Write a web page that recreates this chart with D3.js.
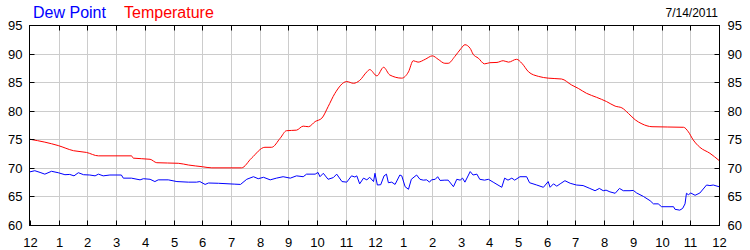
<!DOCTYPE html>
<meta charset="utf-8">
<head>
  <meta charset="utf-8">
  <title>Dew Point and Temperature</title>
  <style>
    body { margin: 0; background: #fff; }
    svg { display: block; font-family: Arial, "Liberation Sans", sans-serif; }
  </style>
</head>
<body>
<script src="https://cdn.jsdelivr.net/npm/d3@7/dist/d3.min.js"></script>
<script>

// minutes since midnight / degrees F
var tempMinutes = [0, 31, 59, 91, 118, 143, 212, 216, 251, 265, 310, 331, 360, 380, 442, 463, 491, 505, 523, 536,
  557, 571, 582, 596, 610, 623, 637, 662, 676, 689, 704, 710, 725, 739, 752, 777, 791, 801, 811, 826,
  841, 853, 867, 874, 888, 901, 909, 920, 926, 937, 950, 961, 976, 989, 1000, 1017, 1028, 1042, 1063, 1083,
  1111, 1132, 1146, 1163, 1184, 1205, 1223, 1237, 1251, 1265, 1279, 1300, 1366, 1376, 1386, 1400, 1421, 1440];
var tempValues = [75.0, 74.5, 73.9, 73.0, 72.7, 72.1, 72.1, 71.7, 71.5, 70.9, 70.8, 70.5, 70.2, 70.0, 70.0, 71.7, 73.6, 73.6, 75.2, 76.5,
  76.6, 77.3, 77.2, 78.1, 78.7, 80.7, 83.0, 85.1, 84.8, 85.3, 86.8, 87.2, 86.1, 87.6, 86.25, 85.7, 86.8, 88.75, 88.5, 89.0,
  89.6, 89.0, 88.3, 88.3, 89.5, 90.9, 91.55, 90.9, 89.9, 89.2, 88.2, 88.4, 88.45, 88.75, 88.5, 89.0, 88.3, 86.8, 86.0, 85.7,
  85.55, 84.5, 83.9, 83.05, 82.35, 81.6, 80.8, 80.5, 79.5, 78.4, 77.7, 77.2, 77.1, 76.3, 74.9, 73.6, 72.55, 71.3];

var dewMinutes = [0, 10, 21, 31, 45, 59, 73, 83, 92, 101, 112, 125, 136, 143, 153, 167, 191, 195, 212, 230,
  237, 251, 261, 268, 289, 307, 331, 348, 355, 366, 373, 394, 428, 440, 453, 467, 477, 488, 502, 515,
  529, 544, 557, 571, 578, 596, 602, 606, 613, 623, 634, 641, 652, 662, 672, 679, 683, 689, 697, 704,
  710, 718, 721, 726, 733, 740, 745, 749, 756, 763, 773, 777, 784, 791, 797, 808, 815, 822, 829, 835,
  839, 847, 852, 857, 867, 874, 885, 892, 899, 904, 909, 920, 926, 934, 940, 950, 958, 968, 986, 992,
  999, 1007, 1013, 1024, 1038, 1044, 1059, 1073, 1083, 1087, 1094, 1101, 1108, 1118, 1129, 1142, 1156, 1170, 1181, 1190,
  1198, 1204, 1212, 1223, 1232, 1240, 1254, 1261, 1268, 1282, 1296, 1303, 1313, 1320, 1345, 1348, 1358, 1364, 1369, 1372,
  1376, 1381, 1390, 1400, 1414, 1421, 1428, 1440];
var dewValues = [69.3, 69.5, 69.2, 68.9, 69.4, 69.15, 68.8, 68.85, 68.6, 69.15, 68.8, 68.75, 68.6, 68.9, 68.6, 68.75, 68.75, 68.2, 68.2, 67.9,
  68.1, 68.0, 67.6, 67.9, 67.9, 67.6, 67.5, 67.5, 67.6, 67.1, 67.35, 67.3, 67.15, 67.1, 68.0, 68.45, 68.1, 68.35, 67.9, 68.2,
  68.45, 68.2, 68.6, 68.45, 68.9, 68.9, 69.2, 68.45, 69.05, 68.0, 68.3, 68.9, 67.6, 67.5, 68.6, 68.4, 68.6, 67.2, 68.2, 67.9,
  68.35, 67.6, 69.05, 67.0, 67.05, 68.6, 68.9, 67.4, 67.5, 67.1, 68.75, 68.6, 66.7, 66.25, 68.0, 68.75, 68.0, 67.85, 67.9, 67.5,
  67.9, 68.0, 68.45, 67.8, 67.85, 67.85, 66.7, 68.0, 67.85, 68.2, 67.5, 69.35, 68.75, 68.9, 68.0, 67.85, 68.0, 67.5, 66.6, 68.2,
  67.85, 68.2, 67.85, 68.45, 68.45, 67.4, 67.0, 66.6, 67.6, 66.6, 67.2, 66.8, 67.2, 67.75, 67.3, 67.0, 66.9, 66.4, 66.0, 66.4,
  66.0, 66.1, 65.8, 65.55, 66.4, 66.0, 66.0, 66.05, 65.6, 65.0, 64.25, 63.7, 63.7, 63.2, 63.2, 62.75, 62.6, 62.9, 63.7, 65.55,
  65.3, 65.6, 65.2, 65.6, 67.0, 66.9, 67.0, 66.7];

var yTicks = [60, 65, 70, 75, 80, 85, 90, 95];
var hourTicks = d3.range(0, 1441, 60);
var hourLabels = ["12", "1", "2", "3", "4", "5", "6", "7", "8", "9", "10", "11",
  "12", "1", "2", "3", "4", "5", "6", "7", "8", "9", "10", "11", "12"];
var dateLabel = "7/14/2011";

var width = 750, height = 250;
var margin = {top: 25, right: 31, bottom: 25, left: 30};

var svg = d3.select("body").append("svg")
    .attr("width", width)
    .attr("height", height);

var x = d3.scaleLinear()
    .domain([0, 1440])
    .range([margin.left, width - margin.right]);

var y = d3.scaleLinear()
    .domain([60, 95])
    .range([height - margin.bottom, margin.top]);

function px(v) { return Math.round(v) + 0.5; }

// grid
var grid = svg.append("g").attr("stroke", "#cccccc").attr("stroke-width", 1);
grid.selectAll(".vg").data(hourTicks.slice(1, -1)).enter().append("line")
    .attr("x1", function(d) { return px(x(d)); })
    .attr("x2", function(d) { return px(x(d)); })
    .attr("y1", y(95)).attr("y2", y(60));
grid.selectAll(".hg").data(yTicks.slice(1, -1)).enter().append("line")
    .attr("y1", function(d) { return px(y(d)); })
    .attr("y2", function(d) { return px(y(d)); })
    .attr("x1", x(0)).attr("x2", x(1440));

// lines
var line = d3.line()
    .x(function(d) { return x(d[0]); })
    .y(function(d) { return y(d[1]); });

svg.append("path")
    .datum(dewMinutes.map(function(m, i) { return [m, dewValues[i]]; }))
    .attr("fill", "none")
    .attr("stroke", "#0000ff")
    .attr("stroke-width", 1)
    .attr("d", line);

svg.append("path")
    .datum(tempMinutes.map(function(m, i) { return [m, tempValues[i]]; }))
    .attr("fill", "none")
    .attr("stroke", "#ff0000")
    .attr("stroke-width", 1)
    .attr("d", line.curve(d3.curveMonotoneX));

// frame
svg.append("rect")
    .attr("x", px(x(0)) - 1).attr("y", px(y(95)))
    .attr("width", px(x(1440)) - px(x(0)) + 1)
    .attr("height", px(y(60)) - px(y(95)))
    .attr("fill", "none").attr("stroke", "#000");

// axes (ticks point inward)
function styleAxis(g) {
  g.select(".domain").remove();
  g.selectAll("text").attr("fill", "#000").style("font-size", "13px")
    .style("font-family", "Arial, 'Liberation Sans', sans-serif");
  g.selectAll("line").attr("stroke", "#000");
}

svg.append("g")
    .attr("transform", "translate(0," + px(y(60)) + ")")
    .call(d3.axisBottom(x).tickValues(hourTicks).tickSizeInner(-5).tickPadding(12)
      .tickFormat(function(d, i) { return hourLabels[i]; }))
    .call(styleAxis)
    .selectAll(".tick").attr("transform", function(d) { return "translate(" + px(x(d)) + ",0)"; });

svg.append("g")
    .attr("transform", "translate(0," + px(y(95)) + ")")
    .call(d3.axisTop(x).tickValues(hourTicks.slice(1, -1)).tickSizeInner(-5).tickFormat(""))
    .call(styleAxis)
    .selectAll(".tick").attr("transform", function(d) { return "translate(" + px(x(d)) + ",0)"; });

svg.append("g")
    .attr("transform", "translate(" + (px(x(0)) - 1) + ",0)")
    .call(d3.axisLeft(y).tickValues(yTicks).tickSizeInner(-5).tickPadding(7))
    .call(styleAxis)
    .selectAll(".tick").attr("transform", function(d) { return "translate(0," + px(y(d)) + ")"; });

svg.append("g")
    .attr("transform", "translate(" + px(x(1440)) + ",0)")
    .call(d3.axisRight(y).tickValues(yTicks).tickSizeInner(-5).tickPadding(8))
    .call(styleAxis)
    .selectAll(".tick").attr("transform", function(d) { return "translate(0," + px(y(d)) + ")"; });

// legend and date
svg.append("text").attr("x", 33).attr("y", 18)
    .attr("fill", "#0000ff").style("font-size", "16px").text("Dew Point");
svg.append("text").attr("x", 124).attr("y", 18)
    .attr("fill", "#ff0000").style("font-size", "16px").text("Temperature");
svg.append("text").attr("x", 718).attr("y", 17)
    .attr("text-anchor", "end").attr("fill", "#000").style("font-size", "12px").text(dateLabel);

</script>
</body>
